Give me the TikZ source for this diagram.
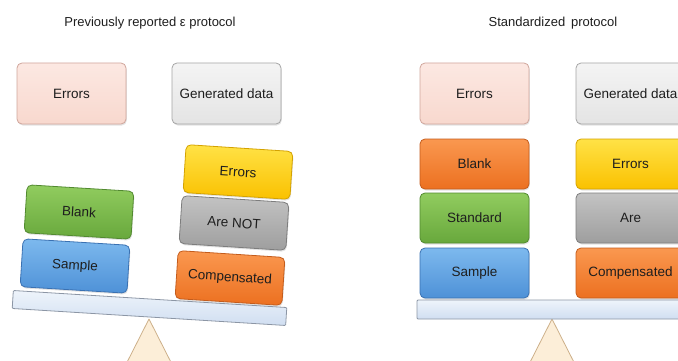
\documentclass[tikz,border=0pt]{standalone}
\usepackage{fontspec}
\setmainfont{Liberation Sans}
\usetikzlibrary{shadows}
\definecolor{txt}{RGB}{30,30,30}
\definecolor{pinkT}{RGB}{252,232,226}\definecolor{pinkB}{RGB}{248,216,206}\definecolor{pinkD}{RGB}{208,166,156}
\definecolor{lgT}{RGB}{244,244,244}\definecolor{lgB}{RGB}{228,228,228}\definecolor{lgD}{RGB}{165,165,165}
\definecolor{yeT}{RGB}{255,226,70}\definecolor{yeB}{RGB}{250,193,0}\definecolor{yeD}{RGB}{212,162,0}
\definecolor{grT}{RGB}{195,195,195}\definecolor{grB}{RGB}{158,158,158}\definecolor{grD}{RGB}{125,125,125}
\definecolor{orT}{RGB}{250,152,80}\definecolor{orB}{RGB}{236,112,32}\definecolor{orD}{RGB}{196,92,28}
\definecolor{gnT}{RGB}{145,204,95}\definecolor{gnB}{RGB}{104,168,60}\definecolor{gnD}{RGB}{82,138,48}
\definecolor{blT}{RGB}{125,185,238}\definecolor{blB}{RGB}{78,145,215}\definecolor{blD}{RGB}{58,113,178}
\definecolor{bmT}{RGB}{238,244,251}\definecolor{bmB}{RGB}{208,222,241}\definecolor{bmD}{RGB}{140,150,165}
\definecolor{trF}{RGB}{252,238,216}\definecolor{trD}{RGB}{205,176,138}
\begin{document}
\begin{tikzpicture}[x=1pt,y=-1pt,
  box/.style={rectangle, rounded corners=5pt, minimum width=107pt, minimum height=48pt,
    inner sep=0pt, font=\fontsize{13.5}{15}\selectfont, text=txt, line width=0.8pt,
    drop shadow={opacity=0.22, shadow xshift=0.8pt, shadow yshift=-1.5pt}},
  topbox/.style={box, minimum width=109pt, minimum height=61pt},
  stackbox/.style={box, minimum width=109pt, minimum height=50pt},
  pinkc/.style={draw=pinkD, top color=pinkT, bottom color=pinkB},
  lgc/.style={draw=lgD, top color=lgT, bottom color=lgB},
  yec/.style={draw=yeD, top color=yeT, bottom color=yeB},
  grc/.style={draw=grD, top color=grT, bottom color=grB},
  orc/.style={draw=orD, top color=orT, bottom color=orB},
  gnc/.style={draw=gnD, top color=gnT, bottom color=gnB},
  blc/.style={draw=blD, top color=blT, bottom color=blB},
  beam/.style={rectangle, draw=bmD, line width=0.8pt, top color=bmT, bottom color=bmB, rounded corners=1pt, inner sep=0pt},
  fulcrum/.style={draw=trD, fill=trF, line width=0.8pt, line join=round},
  title/.style={font=\fontsize{13}{15}\selectfont, text=txt, inner sep=0pt}
]
\useasboundingbox (0,0) rectangle (678,361);
\clip (0,0) rectangle (678,361);

% ---------- left panel ----------
\node[title] (t1) at (150,23) {Previously reported ε protocol};
\node[topbox, pinkc] (e1) at (71.5,93.5) {Errors};
\node[topbox, lgc] (g1) at (226.5,93.5) {Generated data};

\draw[fulcrum] (149,319) -- (181,382) -- (117,382) -- cycle;
\node[beam, minimum width=274pt, minimum height=18pt, rotate=-3.56] (b1) at (149.5,308) {};

\node[box, blc, rotate=-3.5] (s1) at (75,266) {Sample};
\node[box, gnc, rotate=-3.5] (k1) at (79,212) {Blank};
\node[box, orc, rotate=-3.7] (c1) at (230,278) {Compensated};
\node[box, grc, rotate=-3.7] (a1) at (234,223) {Are NOT};
\node[box, yec, rotate=-3.7] (y1) at (238,172) {Errors};

% ---------- right panel ----------
\node[title] (t2) at (553,23) {Standardized\, protocol};
\node[topbox, pinkc] (e2) at (474.5,93.5) {Errors};
\node[topbox, lgc] (g2) at (630.5,93.5) {Generated data};

\draw[fulcrum] (552,319) -- (584,382) -- (520,382) -- cycle;
\node[beam, minimum width=300pt, minimum height=19pt] (b2) at (567,309.5) {};

\node[stackbox, orc] (k2) at (474.5,164) {Blank};
\node[stackbox, gnc] (d2) at (474.5,218) {Standard};
\node[stackbox, blc] (s2) at (474.5,273) {Sample};
\node[stackbox, yec] (y2) at (630.5,164) {Errors};
\node[stackbox, grc] (a2) at (630.5,218) {Are};
\node[stackbox, orc] (c2) at (630.5,273) {Compensated};
\end{tikzpicture}
\end{document}
